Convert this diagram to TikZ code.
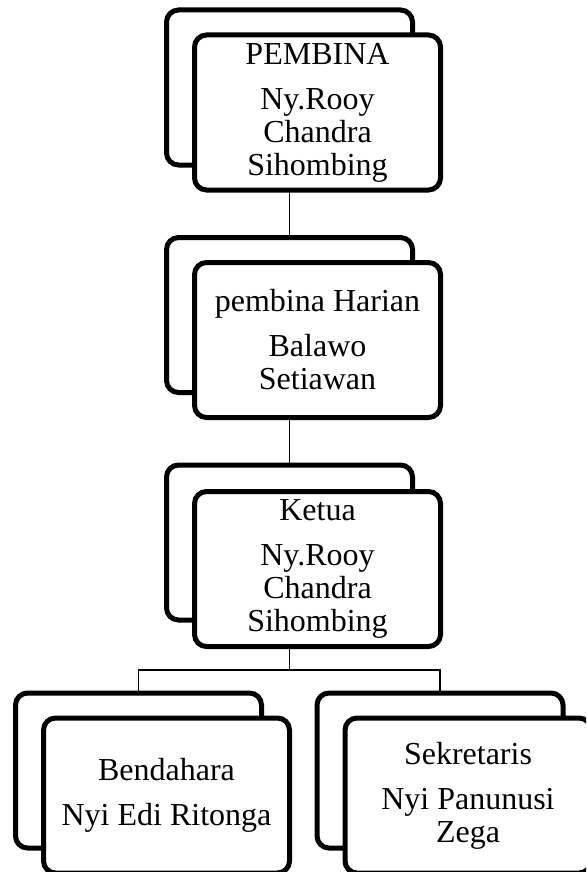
\documentclass[tikz,border=0pt]{standalone}
\usepackage{fontspec}
\setmainfont{Liberation Serif}
\tikzset{
  backbox/.style={draw, line width=5pt, rounded corners=12pt, fill=white,
    minimum width=246pt, minimum height=155pt, inner sep=0pt},
  frontbox/.style={backbox, align=center,
    font=\fontsize{32}{33}\selectfont},
  conn/.style={line width=1.3pt}
}
\begin{document}
\begin{tikzpicture}[x=1pt,y=-1pt]
\useasboundingbox (0,0) rectangle (586,872);
\clip (0,0) rectangle (586,872);
% connectors first (behind boxes)
\coordinate (g1) at (289.5,87.5);
\coordinate (g2) at (289.5,315);
\coordinate (g3) at (289.5,542.5);
\coordinate (bl) at (138.5,770.5);
\coordinate (br) at (440,770.5);
\coordinate (bus) at (289.5,670);
\draw[conn] (g1) -- (g2);
\draw[conn] (g2) -- (g3);
\draw[conn] (g3) -- (bus);
\draw[conn] (bus) -| (bl);
\draw[conn] (bus) -| (br);
% group 1
\node[backbox] (b1) at (g1) {};
\node[frontbox] (f1) at (317.5,112.5) {PEMBINA\\[12pt]Ny.Rooy\\Chandra\\Sihombing};
% group 2
\node[backbox] (b2) at (g2) {};
\node[frontbox] (f2) at (317.5,340) {pembina Harian\\[12pt]Balawo\\Setiawan};
% group 3
\node[backbox] (b3) at (g3) {};
\node[frontbox] (f3) at (317.5,569) {Ketua\\[12pt]Ny.Rooy\\Chandra\\Sihombing};
% bottom left
\node[backbox] (b4) at (bl) {};
\node[frontbox] (f4) at (166.5,795.5) {\raisebox{-4pt}{Bendahara}\\[12pt]\raisebox{-4pt}{Nyi Edi Ritonga}};
% bottom right
\node[backbox] (b5) at (br) {};
\node[frontbox] (f5) at (468,795.5) {Sekretaris\\[12pt]Nyi Panunusi\\Zega};
\end{tikzpicture}
\end{document}
